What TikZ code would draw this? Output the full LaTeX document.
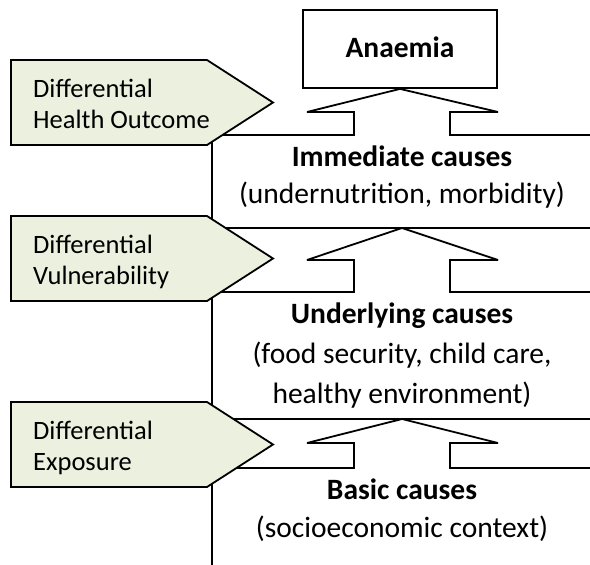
\documentclass[tikz,border=0pt]{standalone}
\usepackage{fontspec}
\setmainfont{Carlito}
\usepackage{tikz}
\definecolor{chev}{HTML}{EBF1DE}
\definecolor{ink}{HTML}{000000}
\tikzset{
  frameLine/.style={draw=ink, line width=1.8pt, line join=miter, miter limit=6},
  chevBox/.style={draw=ink, fill=chev, line width=1.8pt, line join=miter},
  outBox/.style={draw=ink, fill=white, line width=1.8pt, minimum width=194pt, minimum height=78pt, inner sep=0pt},
  causeLbl/.style={font=\fontsize{29.5}{34}\selectfont\bfseries, anchor=base, inner sep=0pt},
  subLbl/.style={font=\fontsize{29.5}{34}\selectfont, anchor=base, inner sep=0pt},
  chevLbl/.style={font=\fontsize{26.5}{31}\selectfont, align=left, anchor=base west, inner sep=0pt},
}
% green chevron, top edge at #1
\newcommand{\Chevron}[3]{%
  \draw[chevBox] (11,#1) -- (207,#1) -- (273,#1+42.5) -- (207,#1+85) -- (11,#1+85) -- cycle;
  \node[chevLbl] (#2) at (33,#1+68) {Differential\\#3};
}
% block arrow: tip #1, wings #2, foot #3
\newcommand{\UpArrow}[3]{%
  \draw[frameLine] (212,#3) -- (354,#3) -- (354,#2) -- (307,#2) -- #1
    -- (498,#2) -- (450,#2) -- (450,#3) -- (590,#3);
}

\begin{document}
\begin{tikzpicture}[x=1pt, y=-1pt]
  \useasboundingbox (0,0) rectangle (590,565);

  \node[outBox] (anaemia) at (400,49) {};
  \node[causeLbl] (anaemiaTxt) at (400,57) {Anaemia};

  % frame
  \draw[frameLine] (212,135) -- (212,565);
  \draw[frameLine] (212,228) -- (590,228);
  \draw[frameLine] (212,419) -- (590,419);
  \coordinate (tipB) at (402,228);
  \coordinate (tipC) at (402,419);
  \UpArrow{(anaemia.south)}{112}{135}
  \UpArrow{(tipB)}{260}{292}
  \UpArrow{(tipC)}{443}{468}

  \node[causeLbl] (immediate) at (402,166) {Immediate causes};
  \node[subLbl] (immediateSub) at (402,203) {(undernutrition, morbidity)};
  \node[causeLbl] (underlying) at (402,323) {Underlying causes};
  \node[subLbl] (underlyingSub) at (402,363) {(food security, child care,};
  \node[subLbl] (underlyingSubB) at (402,403) {healthy environment)};
  \node[causeLbl] (basic) at (402,499) {Basic causes};
  \node[subLbl] (basicSub) at (402,537) {(socioeconomic context)};

  \Chevron{60}{outcome}{Health Outcome}
  \Chevron{216}{vulner}{Vulnerability}
  \Chevron{402}{exposure}{Exposure}
\end{tikzpicture}
\end{document}
